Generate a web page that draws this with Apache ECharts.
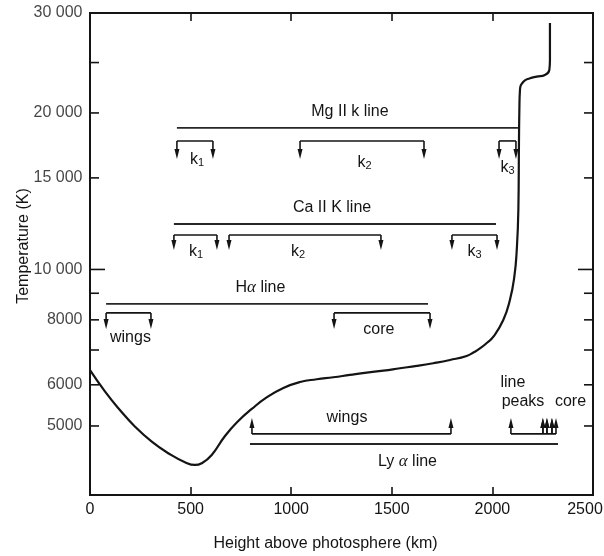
<!DOCTYPE html>
<html>
<head>
<meta charset="utf-8">
<script src="https://cdn.jsdelivr.net/npm/echarts@6/dist/echarts.min.js"></script>
<style>
  html, body { margin: 0; padding: 0; background: #ffffff; }
  #chart { width: 604px; height: 556px; }
</style>
</head>
<body>
<div id="chart"></div>
<script>
// Temperature of the solar atmosphere against height, with the layers where
// the Mg II k, Ca II K, H-alpha and Lyman-alpha lines are formed.

// Model temperature curve
const heightKm = [0, 75, 141, 224, 307, 389, 472, 522, 555, 605, 671, 737, 804, 878, 961,
  1044, 1127, 1209, 1292, 1375, 1458, 1541, 1624, 1706, 1789, 1872, 1910, 1938, 1975, 2004, 2054, 2087,
  2109, 2121, 2129, 2132, 2134, 2137, 2154, 2187, 2220, 2261, 2283, 2286, 2286];
const temperatureK = [6400, 5820, 5408, 4984, 4665, 4432, 4258, 4207, 4239, 4398, 4783, 5112, 5391, 5673, 5918,
  6076, 6150, 6204, 6269, 6332, 6388, 6456, 6523, 6602, 6698, 6818, 6939, 7047, 7237, 7415, 7994, 8735,
  9685, 10900, 13016, 17482, 20270, 22140, 22970, 23320, 23490, 23670, 24200, 25290, 29800];

// Full formation range of each line: [from km, to km, temperature level of the bar]
const lineSpans = [
  [432, 2127, 18715],   // Mg II k
  [417, 2018, 12230],   // Ca II K
  [80, 1680, 8585],     // H alpha
  [795, 2326, 4616]     // Ly alpha
];

// Sub-ranges marked with downward arrows: [from km, to km, bar temperature, arrow-tip temperature]
const downBrackets = [
  [432, 611, 17667, 16315],    // Mg k1
  [1044, 1660, 17667, 16315],  // Mg k2
  [2033, 2117, 17667, 16315],  // Mg k3
  [417, 631, 11650, 10900],    // Ca k1
  [691, 1446, 11650, 10900],   // Ca k2
  [1799, 2023, 11650, 10900],  // Ca k3
  [80, 303, 8249, 7682],       // H alpha wings
  [1213, 1690, 8249, 7682]     // H alpha core
];

// Sub-ranges marked with upward arrows (Ly alpha)
const upBrackets = [
  [805, 1794, 4827, 5182],     // wings
  [2092, 2316, 4827, 5182],    // line peaks .. core
  [2251, 2251, 4827, 5182],
  [2271, 2271, 4827, 5182],
  [2296, 2296, 4827, 5182]
];

// Annotation texts: [km, temperature, text]
const annotationTexts = [
  [1292, 20090, 'Mg II k line'],
  [532, 16255, 'k{s|1}'],
  [1364, 16025, 'k{s|2}'],
  [2075, 15674, 'k{s|3}'],
  [1203, 13130, 'Ca II K line'],
  [527, 10800, 'k{s|1}'],
  [1034, 10800, 'k{s|2}'],
  [1911, 10800, 'k{s|3}'],
  [847, 9213, 'H{a|α} line'],
  [201, 7383, 'wings'],
  [1436, 7648, 'core'],
  [1277, 5182, 'wings'],
  [1578, 4263, 'Ly {a|α} line'],
  [2102, 6048, 'line'],
  [2152, 5561, 'peaks'],
  [2388, 5561, 'core']
];

// Axis ticks
const yTickValues = [5000, 6000, 8000, 10000, 15000, 20000, 30000];
const yTickText = ['5000', '6000', '8000', '10 000', '15 000', '20 000', '30 000'];
const yMinorTicks = [7000, 9000, 25000];
const xMin = 0, xMax = 2500, xStep = 500;

// Vertical extent of the frame (log scale); the top edge carries the 30 000 label
const Y_MIN = 3683, Y_MAX = 31135;

const INK = '#141414';
const FONT = "'Liberation Sans', Arial, Helvetica, sans-serif";
const SERIF = "'Liberation Serif', 'DejaVu Serif', serif";

const chart = echarts.init(document.getElementById('chart'), null, { renderer: 'canvas' });

function renderYTick(params, api) {
  const v = api.value(1);
  const cs = params.coordSys;
  const y = api.coord([xMin, v])[1];
  const len = v === 10000 ? 15 : 9;
  const st = { stroke: INK, lineWidth: 1.6 };
  return {
    type: 'group',
    children: [
      { type: 'line', shape: { x1: cs.x, y1: y, x2: cs.x + len, y2: y }, style: st },
      { type: 'line', shape: { x1: cs.x + cs.width, y1: y, x2: cs.x + cs.width - len, y2: y }, style: st }
    ]
  };
}

function renderBracket(params, api) {
  const a = api.coord([api.value(0), api.value(2)]);
  const b = api.coord([api.value(1), api.value(2)]);
  const tipY = api.coord([api.value(0), api.value(3)])[1];
  const dir = tipY > a[1] ? 1 : -1;
  const st = { stroke: INK, lineWidth: 1.6 };
  const children = [];
  if (b[0] - a[0] > 0.5) {
    children.push({ type: 'line', shape: { x1: a[0], y1: a[1], x2: b[0], y2: b[1] }, style: st });
  }
  [a[0], b[0]].forEach(function (x) {
    children.push({ type: 'line', shape: { x1: x, y1: a[1], x2: x, y2: tipY - dir * 6 }, style: st });
    children.push({
      type: 'polygon',
      shape: { points: [[x - 2.5, tipY - dir * 10], [x + 2.5, tipY - dir * 10], [x, tipY]] },
      style: { fill: INK }
    });
  });
  return { type: 'group', children: children };
}

function renderSpan(params, api) {
  const a = api.coord([api.value(0), api.value(2)]);
  const b = api.coord([api.value(1), api.value(2)]);
  return {
    type: 'line',
    shape: { x1: a[0], y1: a[1], x2: b[0], y2: b[1] },
    style: { stroke: '#262626', lineWidth: 1.8 }
  };
}

function renderText(params, api) {
  const p = api.coord([api.value(0), api.value(1)]);
  const item = annotationTexts[params.dataIndex];
  return {
    type: 'text',
    x: p[0], y: p[1],
    style: {
      text: item[2],
      fill: INK,
      fontFamily: FONT, fontSize: 16,
      align: 'center', verticalAlign: 'middle',
      rich: {
        s: { fill: INK, fontFamily: FONT, fontSize: 11, padding: [6, 0, 0, 0] },
        a: { fill: INK, fontFamily: SERIF, fontStyle: 'italic', fontSize: 17 }
      }
    }
  };
}

const curveData = heightKm.map(function (h, i) { return [h, temperatureK[i]]; });
const tickData = yTickValues.slice(0, -1).concat(yMinorTicks).map(function (v) { return [xMin, v]; });
const tickLabelData = yTickValues.map(function (v, i) {
  const atTop = i === yTickValues.length - 1;
  return [xMin, atTop ? Y_MAX : v, yTickText[i]];
});

const option = {
  backgroundColor: '#ffffff',
  animation: false,
  grid: {
    left: 90, right: 11, top: 13, bottom: 61,
    containLabel: false, outerBoundsMode: 'none',
    show: true, borderColor: INK, borderWidth: 2, backgroundColor: 'transparent'
  },
  xAxis: [
    {
      type: 'value', min: xMin, max: xMax, interval: xStep,
      name: 'Height above photosphere (km)',
      nameLocation: 'middle', nameGap: 41,
      nameTextStyle: { fontFamily: FONT, fontSize: 16, color: INK, padding: [0, 32, 0, 0] },
      axisLine: { show: true, lineStyle: { color: INK, width: 2 } },
      axisTick: { show: true, inside: true, length: 8, lineStyle: { color: INK, width: 1.6 } },
      axisLabel: {
        fontFamily: FONT, fontSize: 16, color: INK, margin: 7,
        // the last label is nudged inwards so it stays on the page
        formatter: function (v) { return v === xMax ? '{edge|' + v + '}' : String(v); },
        rich: { edge: { fontFamily: FONT, fontSize: 16, color: INK, padding: [0, 16, 0, 0] } }
      },
      splitLine: { show: false }
    },
    {
      type: 'value', position: 'top', min: xMin, max: xMax, interval: xStep,
      axisLine: { show: true, lineStyle: { color: INK, width: 2 } },
      axisTick: { show: true, inside: true, length: 8, lineStyle: { color: INK, width: 1.6 } },
      axisLabel: { show: false },
      splitLine: { show: false }
    }
  ],
  yAxis: {
    type: 'log', logBase: 10, min: Y_MIN, max: Y_MAX,
    name: 'Temperature (K)',
    nameLocation: 'middle', nameRotate: 90, nameGap: 58,
    nameTextStyle: { fontFamily: FONT, fontSize: 16, color: INK, padding: [0, 0, 0, 16] },
    axisLine: { show: true, lineStyle: { color: INK, width: 2 } },
    axisTick: { show: false },
    axisLabel: { show: false },
    splitLine: { show: false },
    minorTick: { show: false }
  },
  series: [
    {
      name: 'ticks', type: 'custom', renderItem: renderYTick, data: tickData,
      clip: false, silent: true, z: 3
    },
    {
      name: 'tick labels', type: 'scatter', data: tickLabelData,
      symbolSize: 1, itemStyle: { color: 'rgba(0,0,0,0)' }, silent: true, clip: false,
      label: {
        show: true, position: 'left', distance: 7,
        formatter: function (p) { return p.data[2]; },
        fontFamily: FONT, fontSize: 16, color: INK, textBorderWidth: 0
      }
    },
    {
      name: 'temperature', type: 'line', data: curveData,
      smooth: 0.5, showSymbol: false, symbol: 'none',
      lineStyle: { color: INK, width: 2.2 }, clip: false, z: 4
    },
    {
      name: 'line spans', type: 'custom', renderItem: renderSpan, data: lineSpans,
      clip: false, silent: true, z: 3
    },
    {
      name: 'down brackets', type: 'custom', renderItem: renderBracket, data: downBrackets,
      clip: false, silent: true, z: 3
    },
    {
      name: 'up brackets', type: 'custom', renderItem: renderBracket, data: upBrackets,
      clip: false, silent: true, z: 3
    },
    {
      name: 'annotations', type: 'custom', renderItem: renderText,
      data: annotationTexts.map(function (t) { return [t[0], t[1]]; }),
      clip: false, silent: true, z: 5
    }
  ]
};

chart.setOption(option);
</script>
</body>
</html>
